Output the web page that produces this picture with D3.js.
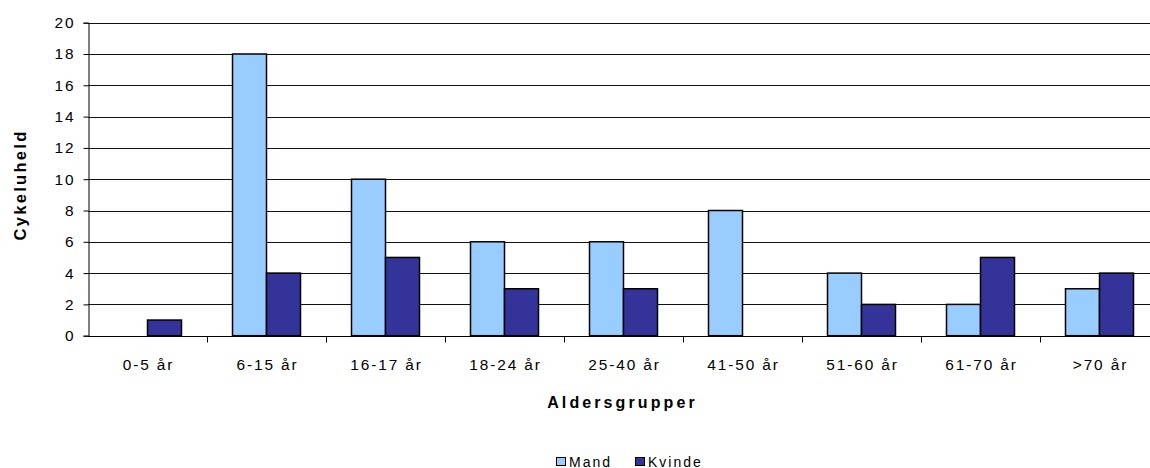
<!DOCTYPE html>
<html>
<head>
<meta charset="utf-8">
<script src="https://cdn.jsdelivr.net/npm/d3@7"></script>
<style>
  html, body { margin: 0; padding: 0; background: #fff; }
  svg { display: block; font-family: "Liberation Sans", Arial, sans-serif; }
</style>
</head>
<body>
<svg id="chart" width="1150" height="468"></svg>
<script>
// Bicycle accidents by age group, split by sex
const categories = ["0-5 år", "6-15 år", "16-17 år", "18-24 år", "25-40 år", "41-50 år", "51-60 år", "61-70 år", ">70 år"];
const seriesNames = ["Mand", "Kvinde"];
const mand   = [0, 18, 10, 6, 6, 8, 4, 2, 3];
const kvinde = [1, 4, 5, 3, 3, 0, 2, 5, 4];
const yTicks = [0, 2, 4, 6, 8, 10, 12, 14, 16, 18, 20];
const colors = ["#99CCFF", "#333399"];

const svg = d3.select("#chart");
const plot = { left: 88, right: 1159, top: 22.7, bottom: 335.7 };
const FONT = "Liberation Sans, Arial, sans-serif";

const x = d3.scaleBand().domain(categories).range([plot.left, plot.right]).paddingInner(0).paddingOuter(0);
const y = d3.scaleLinear().domain([0, 20]).range([plot.bottom, plot.top]);
const barW = x.bandwidth() / 3.5;
const xs = d3.scaleBand().domain(seriesNames).range([0, barW * 2]);

// horizontal gridlines
svg.append("g")
  .selectAll("line")
  .data(yTicks.filter(d => d > 0))
  .join("line")
  .attr("x1", plot.left).attr("x2", plot.right)
  .attr("y1", d => Math.round(y(d)) + 0.5).attr("y2", d => Math.round(y(d)) + 0.5)
  .attr("stroke", "#111").attr("stroke-width", 1)
  .attr("shape-rendering", "crispEdges");

// bars
const rows = categories.map((c, i) => ({ cat: c, vals: [mand[i], kvinde[i]] }));
const groups = svg.append("g").selectAll("g")
  .data(rows).join("g")
  .attr("transform", d => `translate(${x(d.cat) + (x.bandwidth() - barW * 2) / 2},0)`);
groups.selectAll("rect")
  .data(d => d.vals.map((v, j) => ({ v, j })).filter(e => e.v > 0))
  .join("rect")
  .attr("x", e => xs(seriesNames[e.j]))
  .attr("y", e => y(e.v))
  .attr("width", barW)
  .attr("height", e => y(0) - y(e.v))
  .attr("fill", e => colors[e.j])
  .attr("stroke", "#000")
  .attr("stroke-width", 1.5);

// y axis
const yAxis = d3.axisLeft(y).tickValues(yTicks).tickSize(5).tickPadding(8);
const gy = svg.append("g").attr("transform", `translate(${plot.left + 0.5},0)`).call(yAxis);
gy.attr("font-family", FONT).attr("font-size", 15.4);
gy.select(".domain").attr("stroke", "#000");
gy.selectAll(".tick line").attr("stroke", "#000");
gy.selectAll(".tick text").attr("fill", "#000").attr("letter-spacing", "1.9px");

// x axis: ticks at category boundaries
const gx = svg.append("g").attr("transform", `translate(0,${Math.round(plot.bottom) + 0.5})`);
gx.append("line").attr("x1", plot.left).attr("x2", plot.right).attr("stroke", "#000");
gx.selectAll("line.tk")
  .data(categories.slice(1))
  .join("line").attr("class", "tk")
  .attr("x1", d => Math.round(x(d)) + 0.5).attr("x2", d => Math.round(x(d)) + 0.5)
  .attr("y1", 0).attr("y2", 6).attr("stroke", "#000");
gx.selectAll("text")
  .data(categories)
  .join("text")
  .attr("x", d => x(d) + x.bandwidth() / 2 + 1)
  .attr("y", 33.5)
  .attr("text-anchor", "middle")
  .attr("font-size", 15.4)
  .attr("letter-spacing", "1.9px")
  .text(d => d);

// axis titles
svg.append("text")
  .attr("x", 622.5).attr("y", 407.7)
  .attr("text-anchor", "middle")
  .attr("font-size", 16).attr("font-weight", "bold")
  .attr("letter-spacing", "3.1px")
  .text("Aldersgrupper");

svg.append("text")
  .attr("transform", `translate(26,185) rotate(-90)`)
  .attr("text-anchor", "middle")
  .attr("font-size", 16.5).attr("font-weight", "bold")
  .attr("letter-spacing", "2.3px")
  .text("Cykeluheld");

// legend
const legendItems = [
  { name: seriesNames[0], color: colors[0], x: 556.5 },
  { name: seriesNames[1], color: colors[1], x: 635.5 }
];
const lg = svg.append("g");
lg.selectAll("rect").data(legendItems).join("rect")
  .attr("x", d => d.x).attr("y", 457.5)
  .attr("width", 9).attr("height", 8)
  .attr("fill", d => d.color).attr("stroke", "#000").attr("stroke-width", 1);
lg.selectAll("text").data(legendItems).join("text")
  .attr("x", d => d.x + 12.5).attr("y", 466.5)
  .attr("font-size", 14)
  .attr("letter-spacing", "2px")
  .text(d => d.name);
</script>
</body>
</html>
